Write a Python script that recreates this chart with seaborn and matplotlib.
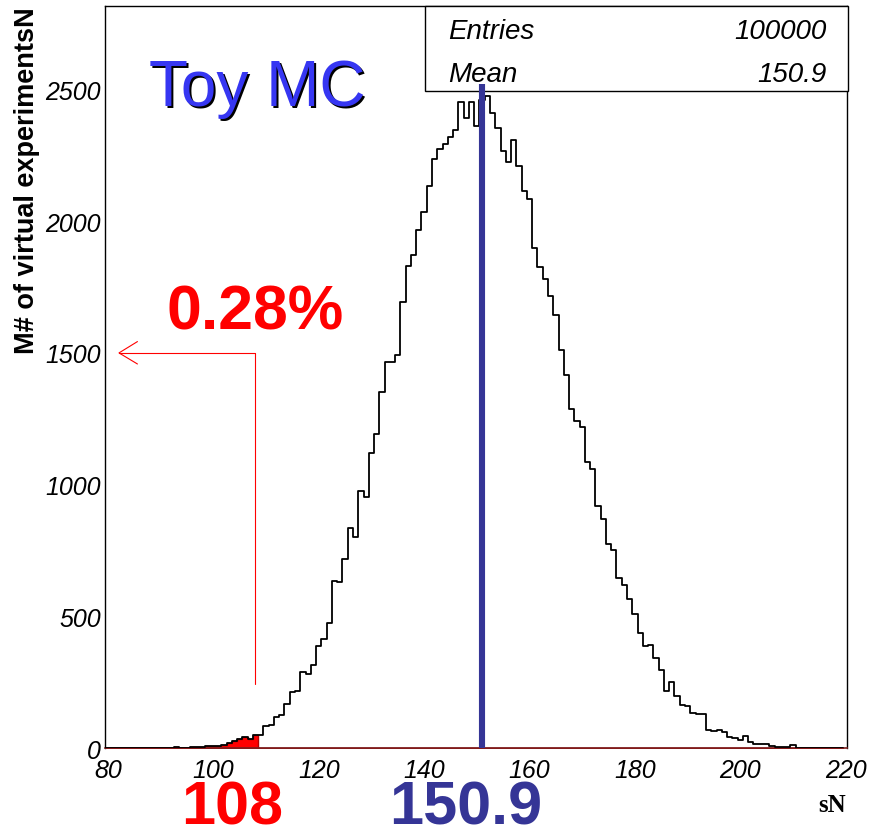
import numpy as np
import pandas as pd
import matplotlib
matplotlib.use("Agg")
import matplotlib.pyplot as plt
from matplotlib.ticker import MultipleLocator
from matplotlib.patches import Rectangle
import seaborn as sns

# ---------------- data ----------------
bin_start = 80          # first bin centre (bins are 1 wide, centred on integers)
counts = [
    0, 0, 0, 0, 1, 0, 0, 1, 1, 1,                      # 80-89
    1, 2, 2, 4, 2, 3, 4, 5, 6, 7,                      # 90-99
    8, 10, 12, 19, 28, 35, 44, 35, 51, 51,             # 100-109
    86, 88, 118, 125, 168, 212, 218, 288, 283, 315,    # 110-119
    389, 413, 474, 636, 632, 718, 835, 803, 977, 953,  # 120-129
    1119, 1191, 1353, 1467, 1464, 1492, 1692, 1829, 1872, 1966,  # 130-139
    2036, 2134, 2236, 2274, 2291, 2318, 2347, 2451, 2390, 2451,  # 140-149
    2362, 2460, 2476, 2409, 2352, 2267, 2223, 2308, 2210, 2113,  # 150-159
    2084, 1897, 1825, 1780, 1717, 1644, 1512, 1417, 1287, 1242,  # 160-169
    1220, 1086, 1058, 918, 870, 775, 754, 646, 620, 566,         # 170-179
    510, 437, 389, 393, 341, 298, 219, 252, 198, 163,            # 180-189
    162, 134, 132, 129, 71, 64, 71, 61, 43, 38,                  # 190-199
    33, 47, 25, 18, 18, 15, 10, 5, 5, 6,                         # 200-209
    13, 3, 3, 1, 1, 0, 1, 0, 0, 0,                               # 210-219
]
cut_value = 108
mean_value = 150.9
entries = 100000
cut_percent = "0.28%"
arrow_level = 1500
arrow_bottom = 244
arrow_tip = 82.1

x_ticks_major = [80, 100, 120, 140, 160, 180, 200, 220]
y_ticks_major = [0, 500, 1000, 1500, 2000, 2500]

# ---------------- figure ----------------
sns.set_style("white")
plt.rcParams['font.family'] = ['Liberation Sans', 'DejaVu Sans']
plt.rcParams['text.color'] = 'black'
plt.rcParams['axes.labelcolor'] = 'black'
plt.rcParams['xtick.color'] = 'black'
plt.rcParams['ytick.color'] = 'black'

W, H = 869, 837
fig = plt.figure(figsize=(W / 100, H / 100), dpi=100)
ax_l, ax_r, ax_t, ax_b = 105.3, 847.3, 7.3, 749.3
ax = fig.add_axes([ax_l / W, 1 - ax_b / H, (ax_r - ax_l) / W, (ax_b - ax_t) / H])

centers = [bin_start + i for i in range(len(counts))]
df = pd.DataFrame({"N": centers, "count": counts})
edges = [c - 0.5 for c in centers] + [centers[-1] + 0.5]

df_red = df[df["N"] <= cut_value]
sns.histplot(data=df_red, x="N", weights="count", bins=edges, element="step",
             fill=True, color="#ff0000", alpha=1.0, edgecolor="#b00000",
             linewidth=1.0, ax=ax, zorder=2)
sns.histplot(data=df, x="N", weights="count", bins=edges, element="step",
             fill=False, color="black", linewidth=1.3, ax=ax, zorder=3)

ax.set_xlabel("")
ax.set_ylabel("")

# ticks
ax.xaxis.set_major_locator(MultipleLocator(20))
ax.xaxis.set_minor_locator(MultipleLocator(5))
ax.yaxis.set_major_locator(MultipleLocator(500))
ax.yaxis.set_minor_locator(MultipleLocator(250))
ax.set_xticks(x_ticks_major)
ax.set_yticks(y_ticks_major)
ax.set_xticklabels([str(v) for v in x_ticks_major])
ax.set_yticklabels([str(v) for v in y_ticks_major])
ax.tick_params(axis='x', which='major', direction='in', length=9, width=1.0, pad=7,
               labelsize=18, top=False, colors='black')
ax.tick_params(axis='x', which='minor', direction='in', length=4.5, width=1.0, top=False,
               colors='black')
ax.tick_params(axis='y', which='major', direction='in', length=10, width=1.0, pad=3,
               labelsize=18, right=False, colors='black')
ax.tick_params(axis='y', which='minor', direction='in', length=5, width=1.0, right=False,
               colors='black')
for lab in ax.get_xticklabels() + ax.get_yticklabels():
    lab.set_fontstyle('italic')
    lab.set_color('black')
ax.set_xlim(79.5, 220.3)
ax.set_ylim(0, 2815)

for s in ["left", "top", "right"]:
    ax.spines[s].set_color("black")
    ax.spines[s].set_linewidth(1.0)
ax.spines["bottom"].set_color("#7a1f1f")
ax.spines["bottom"].set_linewidth(1.2)

# mean line
ax.vlines(mean_value, 0, 2520, color="#353596", linewidth=4.4, zorder=8, clip_on=False)

# arrow for cut
ax.plot([cut_value, cut_value], [arrow_bottom, arrow_level], color="#ff0000", lw=0.8, zorder=4)
ax.plot([arrow_tip, cut_value], [arrow_level, arrow_level], color="#ff0000", lw=0.8, zorder=4)
ax.plot([85.6, arrow_tip, 85.6], [1543, arrow_level, 1458], color="#ff0000", lw=0.8, zorder=4)

# stats box
box = Rectangle((424.5 / W, 1 - 91.7 / H), (847.7 - 424.5) / W, (91.7 - 7.3) / H,
                transform=fig.transFigure, facecolor="white", edgecolor="black",
                linewidth=1.0, zorder=7, clip_on=False)
ax.add_patch(box)


def ftext(x, y, s, **kw):
    return fig.text(x / W, 1 - y / H, s, **kw)


ftext(448, 39, "Entries", fontsize=20, style='italic', ha='left', va='baseline', zorder=9)
ftext(827, 39, str(entries), fontsize=20, style='italic', ha='right', va='baseline', zorder=9)
ftext(448, 82, "Mean", fontsize=20, style='italic', ha='left', va='baseline', zorder=9)
ftext(827, 82, f"{mean_value:.1f}", fontsize=20, style='italic', ha='right', va='baseline', zorder=9)

# Toy MC with shadow
ftext(259, 108, "Toy MC", fontsize=46, color="black", ha='center', va='baseline')
ftext(257, 106, "Toy MC", fontsize=46, color="#3636f2", ha='center', va='baseline')

ftext(255, 330, cut_percent, fontsize=45, fontweight='bold', color="#ff0000",
      ha='center', va='baseline')
ftext(232, 825, str(cut_value), fontsize=44, fontweight='bold', color="#ff0000",
      ha='center', va='baseline')
ftext(466, 825, f"{mean_value:.1f}", fontsize=44, fontweight='bold', color="#353596",
      ha='center', va='baseline')

# axis titles
ftext(27, 181, "M# of virtual experimentsN", fontsize=19.5, fontweight='bold',
      rotation=90, ha='center', va='center', color='black')
ftext(846, 812, "sN", fontsize=18, fontweight='bold', family=['Liberation Serif', 'DejaVu Serif'],
      ha='right', va='baseline', color='black')

fig.savefig("out.png", dpi=100)
